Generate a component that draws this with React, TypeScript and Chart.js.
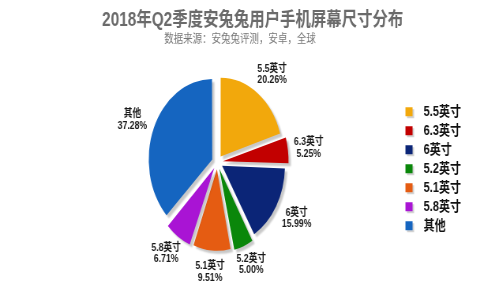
import React, { useEffect, useRef } from "react";
import { Chart, registerables } from "chart.js";

Chart.register(...registerables);

const TITLE = "2018年Q2季度安兔兔用户手机屏幕尺寸分布";
const SUBTITLE = "数据来源：安兔兔评测，安卓，全球";
const categories = ["5.5英寸", "6.3英寸", "6英寸", "5.2英寸", "5.1英寸", "5.8英寸", "其他"];
const shares = [20.26, 5.25, 15.99, 5.0, 9.51, 6.71, 37.28];
const colors = ["#F2A80C", "#C20000", "#0B2577", "#0A870A", "#E55C12", "#A914D4", "#1565C0"];

const SQUASH = 0.79;
const W = 480;
const H = 300;
const INNER_W = Math.round(W / SQUASH);
const FONT = '"Liberation Sans", "Noto Sans CJK SC", sans-serif';

function makeSwatch(color: string) {
  const c = document.createElement("canvas");
  c.width = 20;
  c.height = 14;
  const g = c.getContext("2d")!;
  g.fillStyle = "rgba(0,0,0,0.18)";
  g.fillRect(6, 4, 9, 9);
  g.fillStyle = color;
  g.fillRect(4, 2, 9, 9);
  return c;
}

const shadowPlugin = {
  id: "sliceShadow",
  beforeDatasetsDraw(chart: any) {
    const ctx = chart.ctx;
    ctx.save();
    ctx.shadowColor = "rgba(0,0,0,0.22)";
    ctx.shadowOffsetX = 3;
    ctx.shadowOffsetY = 3;
    ctx.shadowBlur = 2;
  },
  afterDatasetsDraw(chart: any) {
    chart.ctx.restore();
  },
};

const labelPlugin = {
  id: "sliceLabels",
  afterDatasetsDraw(chart: any) {
    const ctx = chart.ctx;
    const meta = chart.getDatasetMeta(0);
    ctx.save();
    ctx.fillStyle = "#1a1a1a";
    ctx.font = `bold 11px ${FONT}`;
    ctx.textAlign = "center";
    ctx.textBaseline = "middle";
    meta.data.forEach((arc: any, i: number) => {
      const p = arc.getProps(["x", "y", "startAngle", "endAngle", "outerRadius"], true);
      const mid = (p.startAngle + p.endAngle) / 2;
      const l1 = categories[i];
      const l2 = shares[i].toFixed(2) + "%";
      const hw = Math.max(ctx.measureText(l1).width, ctx.measureText(l2).width) / 2;
      const hh = 11.5;
      const d = p.outerRadius * 1.25;
      const cx = Math.cos(mid);
      const sy = Math.sin(mid);
      const x = p.x + cx * (d + hw);
      const y = p.y + sy * (d + hh);
      ctx.fillText(l1, x, y - 5.5);
      ctx.fillText(l2, x, y + 6);
    });
    ctx.restore();
  },
};

const subtitlePlugin = {
  id: "subText",
  afterDraw(chart: any) {
    const ctx = chart.ctx;
    ctx.save();
    ctx.fillStyle = "#777";
    ctx.font = `12px ${FONT}`;
    ctx.textAlign = "center";
    ctx.textBaseline = "middle";
    ctx.fillText(SUBTITLE, chart.width * 0.5, 40);
    ctx.restore();
  },
};

export default function App() {
  const ref = useRef<HTMLCanvasElement | null>(null);
  useEffect(() => {
    if (!ref.current) return;
    const swatches = colors.map(makeSwatch);
    const baseGen = (Chart as any).overrides.pie.plugins.legend.labels.generateLabels;
    const chart = new Chart(ref.current, {
      type: "pie",
      data: {
        labels: categories,
        datasets: [
          {
            data: shares,
            backgroundColor: colors,
            borderWidth: 0,
            offset: 28,
          },
        ],
      },
      plugins: [shadowPlugin, labelPlugin, subtitlePlugin],
      options: {
        responsive: false,
        devicePixelRatio: 1,
        animation: false,
        events: [],
        radius: 78.5,
        layout: { padding: { left: 46, right: 14, top: 0, bottom: 33 } },
        plugins: {
          title: {
            display: true,
            text: TITLE,
            color: "#6a6a6a",
            font: { family: FONT, size: 19.5, weight: "bold" },
            padding: { top: 9, bottom: 25 },
          },
          legend: {
            display: true,
            position: "right",
            fullSize: false,
            title: {
              display: true,
              text: " ",
              font: { size: 5 },
              padding: { top: 0, bottom: 8 },
            },
            labels: {
              usePointStyle: true,
              pointStyleWidth: 20,
              boxHeight: 14,
              padding: 5,
              color: "#111",
              font: { family: FONT, size: 14, weight: "bold" },
              generateLabels: (c: any) =>
                baseGen(c).map((item: any, i: number) => ({ ...item, pointStyle: swatches[i] })),
            },
          },
          tooltip: { enabled: false },
        },
      } as any,
    });
    return () => chart.destroy();
  }, []);
  return (
    <div style={{ position: "fixed", left: 0, top: 0, width: W, height: H, background: "#fff" }}>
      <canvas
        ref={ref}
        width={INNER_W}
        height={H}
        style={{ width: W + "px", height: H + "px", display: "block" }}
      />
    </div>
  );
}
